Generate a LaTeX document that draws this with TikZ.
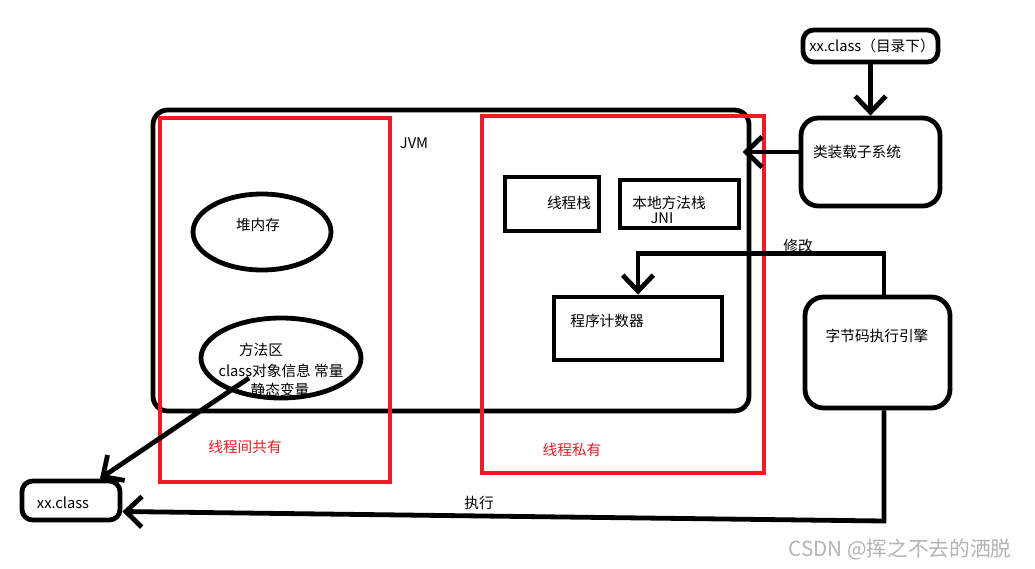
\documentclass[tikz,border=0pt]{standalone}
\usepackage{fontspec}
\setmainfont{Noto Sans CJK SC}
\usetikzlibrary{arrows.meta,calc,shapes.geometric}
\definecolor{pred}{RGB}{237,28,36}
\definecolor{wm}{RGB}{180,180,180}
\begin{document}
\begin{tikzpicture}[x=0.75pt,y=-0.75pt,
  blk/.style={draw=black,line width=3.6pt},
  rbox/.style={blk,rounded corners=9pt,inner sep=0pt},
  sbox/.style={blk,inner sep=0pt},
  redbox/.style={draw=pred,line width=3pt,inner sep=0pt},
  oval/.style={blk,ellipse,inner sep=0pt},
  lbl/.style={font=\fontsize{11}{13}\selectfont,inner sep=0pt,align=center},
  rlbl/.style={lbl,text=pred},
  arr/.style={line width=3.6pt,-{Straight Barb[length=12pt,width=23pt,line width=3.6pt]}},
  con/.style={line width=3.6pt}]
\useasboundingbox (0,0) rectangle (1035,568);
\fill[white] (0,0) rectangle (1035,568);
% JVM and regions
\node[rbox,rounded corners=11pt,minimum width=447pt,minimum height=225.75pt] (jvm) at (451,260.5) {};
\node[redbox,minimum width=172.5pt,minimum height=273pt] (redL) at (275,300) {};
\node[redbox,minimum width=211.5pt,minimum height=267.75pt] (redR) at (623,294.5) {};
\node[lbl] (jvmt) at (414,143) {JVM};
% shared area
\node[oval,minimum width=103.5pt,minimum height=57pt] (heap) at (262,232) {};
\node[lbl] (heapt) at (258,225) {堆内存};
\node[oval,minimum width=120pt,minimum height=60pt] (method) at (281,358) {};
\node[lbl] (methodt1) at (261,350) {方法区};
\node[lbl] (methodt2) at (281,371) {class对象信息 常量};
\node[lbl] (methodt3) at (280,390) {静态变量};
\node[rlbl] (sharedt) at (245,447) {线程间共有};
% private area
\node[sbox,minimum width=70.5pt,minimum height=40.5pt] (stack) at (552,204) {};
\node[lbl] (stackt) at (569,203) {线程栈};
\node[sbox,minimum width=89.25pt,minimum height=36pt] (native) at (679.5,204) {};
\node[lbl] (nativet1) at (669,203) {本地方法栈};
\node[lbl] (nativet2) at (662,218) {JNI};
\node[sbox,minimum width=126pt,minimum height=47.25pt] (pc) at (638,328.5) {};
\node[lbl] (pct) at (607,321) {程序计数器};
\node[rlbl] (privt) at (572,450) {线程私有};
% outside boxes
\node[rbox,rounded corners=8pt,minimum width=101.25pt,minimum height=24pt] (src) at (870.5,46) {};
\node[lbl] (srct) at (872,46) {xx.class（目录下）};
\node[rbox,rounded corners=13pt,minimum width=104.25pt,minimum height=66pt] (loader) at (870.5,162) {};
\node[lbl] (loadert) at (857,152) {类装载子系统};
\node[rbox,rounded corners=14pt,minimum width=108.75pt,minimum height=83.25pt] (engine) at (877.5,352.5) {};
\node[lbl] (enginet) at (877,336) {字节码执行引擎};
\node[rbox,rounded corners=8pt,minimum width=73.5pt,minimum height=29.25pt] (xx) at (71,500.5) {};
\node[lbl] (xxt) at (63,503) {xx.class};
% connectors
\draw[arr] (src) -- (loader);
\draw[arr] ($(loader.west)+(0,-10)$) -- ($(loader.west)+(-56,-10)$);
\draw[arr] ($(engine.north)+(6.5,0)$) |- ($(pc.north)+(0,-41)$) -- (pc.north);
\node[lbl] (modt) at (798,246) {修改};
\coordinate (c1) at (884,521);
\draw[arr] ($(engine.south)+(6.5,0)$) -- (c1) -- ($(xx.east)+(0,11)$);
\node[lbl] (exect) at (479,503) {执行};
\draw[arr] ($(method.center)+(-32,20)$) -- ($(xx.north)+(29,0)$);
% watermark
\node[lbl,text=wm,font=\fontsize{15.5}{17}\selectfont] (wmt) at (900,550) {CSDN @挥之不去的洒脱};
\end{tikzpicture}
\end{document}
